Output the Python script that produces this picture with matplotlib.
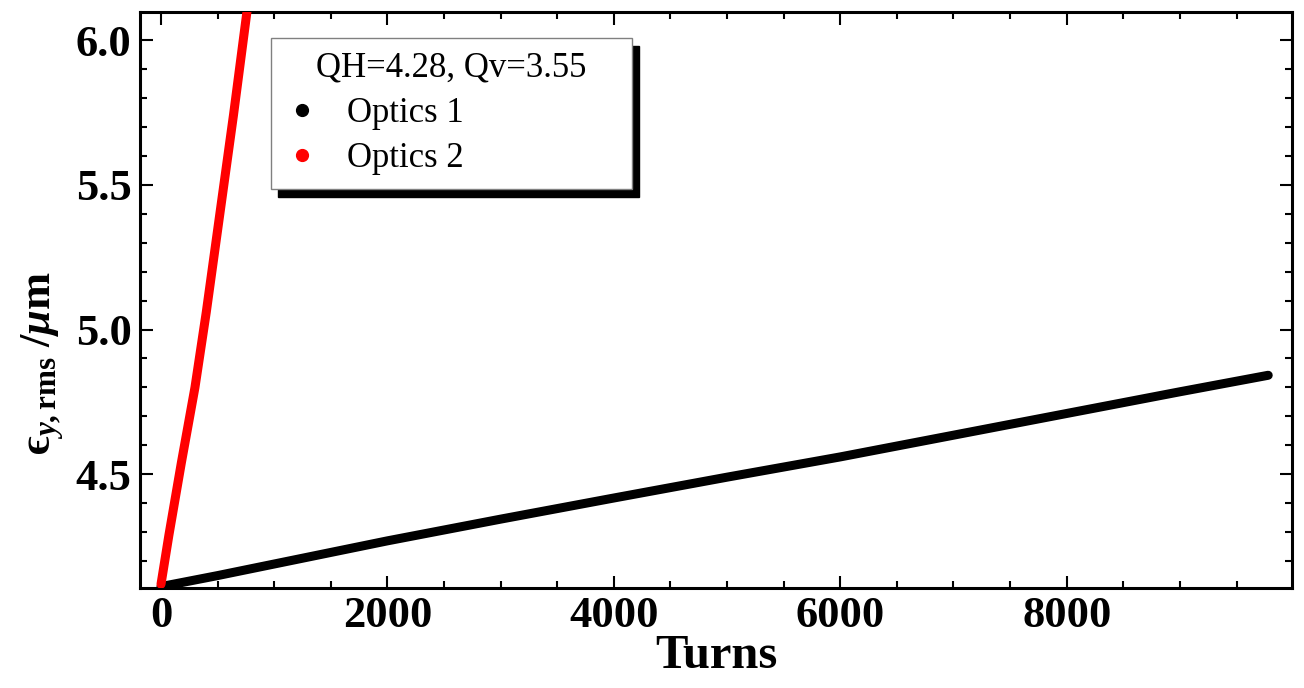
import numpy as np
import matplotlib
matplotlib.use("Agg")
import matplotlib.pyplot as plt
from matplotlib.lines import Line2D
from matplotlib.patches import Rectangle
from matplotlib.transforms import IdentityTransform
from matplotlib.ticker import MultipleLocator, FormatStrFormatter

# values
turns_1 = [0, 500, 1000, 2000, 3000, 4000, 5000, 6000, 7000, 8000, 9000, 9780]
emit_1 = [4.112, 4.15, 4.19, 4.27, 4.345, 4.418, 4.49, 4.56, 4.635, 4.71, 4.785, 4.842]

turns_2 = [0, 70, 180, 300, 400, 520, 640, 760]
emit_2 = [4.12, 4.29, 4.54, 4.80, 5.06, 5.40, 5.74, 6.10]

legend_title = "QH=4.28, Qv=3.55"
labels = ["Optics 1", "Optics 2"]
colors = ["black", "red"]

plt.rcParams['font.family'] = ['Liberation Serif', 'DejaVu Serif']
plt.rcParams['mathtext.fontset'] = 'custom'
plt.rcParams['mathtext.rm'] = 'Liberation Serif:bold'
plt.rcParams['mathtext.bf'] = 'Liberation Serif:bold'
plt.rcParams['mathtext.it'] = 'Liberation Serif:italic:bold'
plt.rcParams['mathtext.fallback'] = 'stix'

fig = plt.figure(figsize=(13.04, 6.88), dpi=100)
ax = fig.add_axes([0.1074, 0.1453, 0.8834, 0.8373])

ax.plot(turns_1, emit_1, color=colors[0], lw=6.5, solid_capstyle='round', zorder=3)
ax.plot(turns_2, emit_2, color=colors[1], lw=6.5, solid_capstyle='round', zorder=3)

ax.set_xlim(-185, 9990)
ax.set_ylim(4.107, 6.097)
ax.xaxis.set_major_locator(MultipleLocator(2000))
ax.xaxis.set_minor_locator(MultipleLocator(500))
ax.yaxis.set_major_locator(MultipleLocator(0.5))
ax.yaxis.set_minor_locator(MultipleLocator(0.1))
ax.yaxis.set_major_formatter(FormatStrFormatter('%.1f'))

ax.tick_params(which='both', direction='in', top=True, right=True, width=1.5)
ax.tick_params(which='major', length=9, labelsize=32, pad=6)
ax.tick_params(which='minor', length=5)
for lab in ax.get_xticklabels() + ax.get_yticklabels():
    lab.set_fontweight('bold')
for sp in ax.spines.values():
    sp.set_linewidth(2.2)

ax.set_xlabel("Turns", fontsize=35, fontweight='bold', labelpad=-2)
ax.set_ylabel('$\\mathrm{\u03f5}_{y,\\mathrm{rms}}\\;/\\mu\\mathrm{m}$', fontsize=32)
ax.yaxis.set_label_coords(-0.064, 0.39)

handles = [Line2D([], [], ls='none', marker='o', ms=8.5, color=c) for c in colors]
leg = ax.legend(handles, labels, title=legend_title, loc='upper left',
                bbox_to_anchor=(0.1137, 0.955, 0.3134, 0), mode='expand',
                borderaxespad=0, fontsize=25, title_fontsize=25, fancybox=False,
                edgecolor='gray', framealpha=1, handletextpad=0.78,
                labelspacing=0.35, borderpad=0.4, handlelength=1.0)
leg.get_frame().set_linewidth(1.0)
for t in leg.get_texts() + [leg.get_title()]:
    t.set_fontweight('normal')

fig.canvas.draw()
bb = leg.get_window_extent()
ax.add_patch(Rectangle((bb.x0 + 7, bb.y0 - 8), bb.width, bb.height,
                       transform=IdentityTransform(), color='black',
                       zorder=4, clip_on=False))

fig.savefig("out.png", dpi=100)
